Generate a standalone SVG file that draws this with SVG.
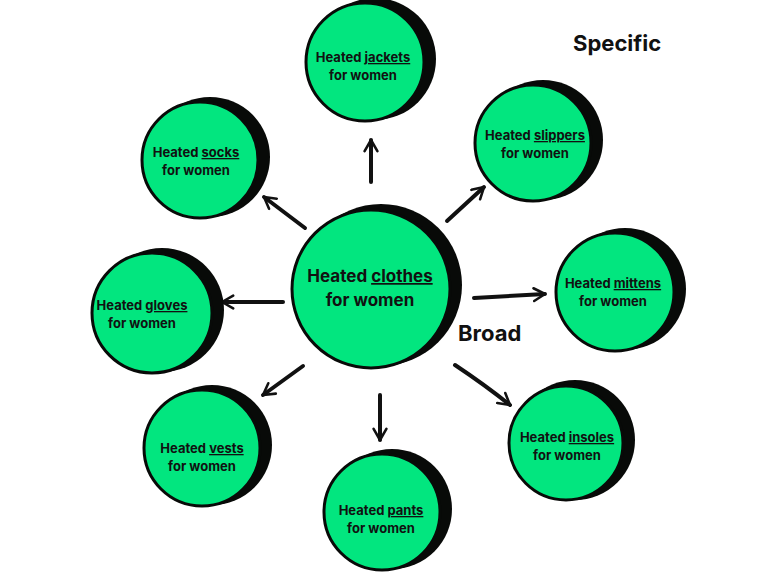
<svg xmlns="http://www.w3.org/2000/svg" width="768" height="576" viewBox="0 0 768 576">
<defs>
<style>
.sh{fill:#080a08}
.c{fill:#02e67f;stroke:#080a08;stroke-width:3}
.t{font-family:Inter,"Open Sans",sans-serif;font-weight:700;font-size:13px;fill:#111;text-anchor:middle}
.tb{font-size:17px}
.u{text-decoration:underline}
.a{fill:none;stroke:#111;stroke-width:4;stroke-linecap:round;stroke-linejoin:round}
.lbl{font-family:Inter,"Open Sans",sans-serif;font-weight:700;font-size:22px;fill:#111}
</style>
<marker id="ah" viewBox="0 0 10 10" refX="8" refY="5" markerWidth="4" markerHeight="4" orient="auto" markerUnits="strokeWidth">
<path d="M1,1 L8,5 L1,9" fill="none" stroke="#111" stroke-width="1.6" stroke-linecap="round" stroke-linejoin="round"/>
</marker>
</defs>
<rect width="768" height="576" fill="#fff"/>
<g id="connectors">
<path class="a" marker-end="url(#ah)" d="M371,182 L371,140"/>
<path class="a" marker-end="url(#ah)" d="M305,228 L264,197"/>
<path class="a" marker-end="url(#ah)" d="M447,221 L484,187"/>
<path class="a" marker-end="url(#ah)" d="M283,302 L222,302"/>
<path class="a" marker-end="url(#ah)" d="M474,298 L545,294"/>
<path class="a" marker-end="url(#ah)" d="M303,366 L263,395"/>
<path class="a" marker-end="url(#ah)" d="M380,395 L380,440"/>
<path class="a" marker-end="url(#ah)" d="M455,365 Q485,385 510,405"/>
</g>
<g id="center"><circle class="sh" cx="381" cy="285" r="81"/><circle class="c" cx="371" cy="289" r="79"/>
<text class="t tb" x="370" y="282">Heated <tspan class="u">clothes</tspan></text><text class="t tb" x="370" y="306">for women</text></g>
<g id="jackets"><circle class="sh" cx="375" cy="59" r="61"/><circle class="c" cx="365" cy="62" r="59"/>
<text class="t" x="363" y="62">Heated <tspan class="u">jackets</tspan></text><text class="t" x="363" y="80">for women</text></g>
<g id="socks"><circle class="sh" cx="210" cy="157" r="60"/><circle class="c" cx="200" cy="160" r="58"/>
<text class="t" x="196" y="157">Heated <tspan class="u">socks</tspan></text><text class="t" x="196" y="175">for women</text></g>
<g id="slippers"><circle class="sh" cx="543" cy="140" r="60"/><circle class="c" cx="533" cy="143" r="58"/>
<text class="t" x="535" y="140">Heated <tspan class="u">slippers</tspan></text><text class="t" x="535" y="158">for women</text></g>
<g id="gloves"><circle class="sh" cx="162" cy="310" r="62"/><circle class="c" cx="152" cy="313" r="60"/>
<text class="t" x="142" y="310">Heated <tspan class="u">gloves</tspan></text><text class="t" x="142" y="328">for women</text></g>
<g id="mittens"><circle class="sh" cx="625" cy="289" r="61"/><circle class="c" cx="615" cy="292" r="59"/>
<text class="t" x="613" y="288">Heated <tspan class="u">mittens</tspan></text><text class="t" x="613" y="306">for women</text></g>
<g id="vests"><circle class="sh" cx="212" cy="445" r="60"/><circle class="c" cx="202" cy="448" r="58"/>
<text class="t" x="202" y="453">Heated <tspan class="u">vests</tspan></text><text class="t" x="202" y="471">for women</text></g>
<g id="pants"><circle class="sh" cx="392" cy="509" r="60"/><circle class="c" cx="382" cy="512" r="58"/>
<text class="t" x="381" y="515">Heated <tspan class="u">pants</tspan></text><text class="t" x="381" y="533">for women</text></g>
<g id="insoles"><circle class="sh" cx="575" cy="440" r="60"/><circle class="c" cx="566" cy="443" r="57"/>
<text class="t" x="567" y="442">Heated <tspan class="u">insoles</tspan></text><text class="t" x="567" y="460">for women</text></g>
<text class="lbl" x="573" y="51">Specific</text>
<text class="lbl" x="458" y="341">Broad</text>
</svg>
